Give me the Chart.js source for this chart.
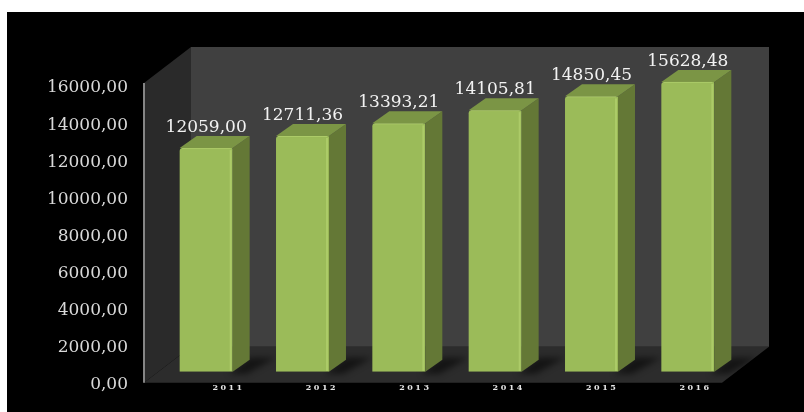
<!DOCTYPE html>
<html>
<head>
<meta charset="utf-8">
<script src="https://cdn.jsdelivr.net/npm/chart.js@4/dist/chart.umd.min.js"></script>
<style>
    body{ margin:0; background:#fff; }
    #wrap{ position:absolute; left:7px; top:12px; width:797px; height:400px; background:#000; }
</style>
</head>
<body>
<div id="wrap"><canvas id="chart"></canvas></div>
<script>
const years = ['2011', '2012', '2013', '2014', '2015', '2016'];
const values = [12059.00, 12711.36, 13393.21, 14105.81, 14850.45, 15628.48];
const yMax = 16000;
const yStep = 2000;

// depth of the fake 3D box, front plane = where the bars stand
const wallFront = { x: -14, y: 11 };
const wallBack = { x: 33, y: -25 };
const barDepth = { x: 17, y: -12 };

var fmt = function(v){
    return v.toFixed(2).replace('.', ',');
};

var poly = function(ctx, pts, color){
    ctx.beginPath();
    ctx.moveTo(pts[0][0], pts[0][1]);
    for (var i = 1; i < pts.length; i++) ctx.lineTo(pts[i][0], pts[i][1]);
    ctx.closePath();
    ctx.fillStyle = color;
    ctx.fill();
};

const box3d = {
    id: 'box3d',
    beforeDraw(chart){
        const ctx = chart.ctx;
        const a = chart.chartArea;
        const top = a.top - 3;
        ctx.save();
        // back wall
        ctx.fillStyle = '#404040';
        ctx.fillRect(a.left + wallBack.x, top + wallBack.y, a.right - a.left, a.bottom - top);
        // side wall
        poly(ctx, [[a.left + wallFront.x, a.bottom + wallFront.y], [a.left + wallFront.x, top + wallFront.y],
                   [a.left + wallBack.x, top + wallBack.y], [a.left + wallBack.x, a.bottom + wallBack.y]], '#2a2a2a');
        // floor
        poly(ctx, [[a.left + wallFront.x, a.bottom + wallFront.y], [a.right + wallFront.x, a.bottom + wallFront.y],
                   [a.right + wallBack.x, a.bottom + wallBack.y], [a.left + wallBack.x, a.bottom + wallBack.y]], '#2c2c2c');
        // axis line on the front edge of the side wall
        ctx.strokeStyle = '#858585';
        ctx.lineWidth = 2;
        ctx.beginPath();
        ctx.moveTo(a.left + wallFront.x, top + wallFront.y);
        ctx.lineTo(a.left + wallFront.x, a.bottom + wallFront.y);
        ctx.stroke();
        ctx.restore();
    },
    beforeDatasetsDraw(chart){
        // soft shadows on the floor
        const ctx = chart.ctx;
        const a = chart.chartArea;
        ctx.save();
        ctx.beginPath();
        ctx.moveTo(a.left + wallFront.x, a.bottom + wallFront.y);
        ctx.lineTo(a.right + wallFront.x, a.bottom + wallFront.y);
        ctx.lineTo(a.right + wallBack.x, a.bottom + wallBack.y);
        ctx.lineTo(a.left + wallBack.x, a.bottom + wallBack.y);
        ctx.closePath();
        ctx.clip();
        ctx.filter = 'blur(3px)';
        chart.getDatasetMeta(0).data.forEach(bar => {
            const xr = bar.x + bar.width / 2;
            const b = bar.base;
            poly(ctx, [[xr - 4, b + 2], [xr + barDepth.x, b + barDepth.y - 2],
                       [xr + barDepth.x + 26, b + barDepth.y - 2], [xr + 14, b + 2]], 'rgba(0,0,0,0.55)');
        });
        ctx.restore();
    },
    afterDatasetsDraw(chart){
        const ctx = chart.ctx;
        ctx.save();
        chart.getDatasetMeta(0).data.forEach((bar, i) => {
            const xl = bar.x - bar.width / 2;
            const xr = bar.x + bar.width / 2;
            const y = bar.y;
            const b = bar.base;
            // side face
            poly(ctx, [[xr, y], [xr, b], [xr + barDepth.x, b + barDepth.y], [xr + barDepth.x, y + barDepth.y]], '#647836');
            // top face
            poly(ctx, [[xl, y], [xr, y], [xr + barDepth.x, y + barDepth.y], [xl + barDepth.x, y + barDepth.y]], '#7b9545');
            // light edge on the front
            ctx.fillStyle = 'rgba(190,220,120,0.5)';
            ctx.fillRect(xr - 3, y + 2, 2, b - y - 3);
            ctx.fillRect(xl + 2, y, bar.width - 4, 1);
            // value label
            ctx.fillStyle = '#f2f2f2';
            ctx.font = '17px "DejaVu Serif"';
            ctx.textAlign = 'center';
            ctx.textBaseline = 'alphabetic';
            ctx.fillText(fmt(values[i]), bar.x, y - 16);
        });
        ctx.restore();
        // the year labels are drawn after this (ticks z:1), spaced out
        ctx.letterSpacing = '2.5px';
    },
    afterDraw(chart){
        chart.ctx.letterSpacing = '0px';
    }
};

var ctx = document.getElementById('chart').getContext('2d');
var chart = new Chart(ctx, {
    type: 'bar',
    data: {
        labels: years,
        datasets: [{
            data: values,
            backgroundColor: '#9bbb59',
            borderWidth: 0,
            borderRadius: { topLeft: 3, topRight: 1 },
            borderSkipped: false,
            categoryPercentage: 1,
            barPercentage: 0.55
        }]
    },
    options: {
        responsive: true,
        maintainAspectRatio: false,
        animation: false,
        layout: { padding: { top: 63, right: 68, left: 0, bottom: 0 } },
        plugins: {
            legend: { display: false },
            tooltip: { enabled: false },
            title: { display: false }
        },
        scales: {
            x: {
                display: false
            },
            // year labels sit on the front edge of the floor, a bit narrower than the bars
            xl: {
                type: 'linear',
                position: 'bottom',
                offset: false,
                min: -0.755,
                max: 5.433,
                grid: { display: false, drawTicks: false, offset: false },
                border: { display: false },
                afterBuildTicks: s => { s.ticks = years.map((y, i) => ({ value: i })); },
                afterFit: s => { s.height = 39; },
                ticks: {
                    autoSkip: false,
                    maxRotation: 0,
                    padding: 11,
                    z: 1,
                    color: '#e6e6e6',
                    font: { family: '"DejaVu Serif"', size: 8, weight: 'bold' },
                    callback: v => years[v]
                }
            },
            y: {
                min: 0,
                max: yMax,
                grid: { display: false, drawTicks: false },
                border: { display: false },
                afterFit: s => { s.width = 151; },
                ticks: {
                    stepSize: yStep,
                    padding: 30,
                    labelOffset: 13,
                    color: '#d9d9d9',
                    font: { family: '"DejaVu Serif"', size: 17 },
                    callback: v => fmt(v)
                }
            }
        }
    },
    plugins: [box3d]
});
</script>
</body>
</html>
